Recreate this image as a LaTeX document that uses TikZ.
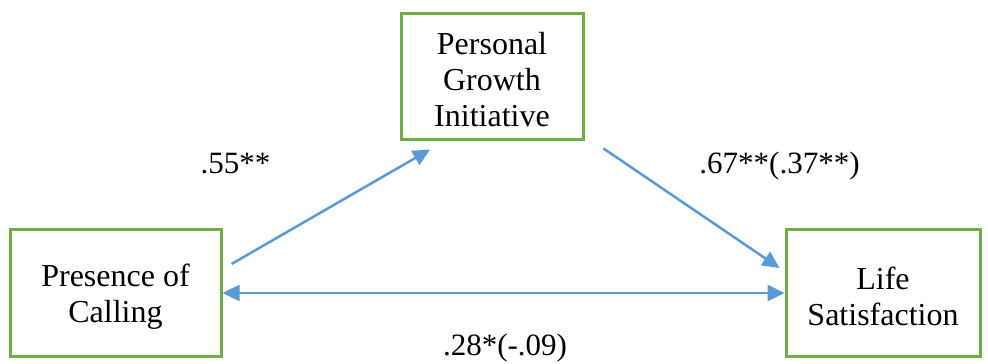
\documentclass[tikz,border=0pt]{standalone}
\usepackage{fontspec}
\setmainfont{Liberation Serif}
\usetikzlibrary{arrows.meta}
\definecolor{boxgreen}{RGB}{112,173,71}
\definecolor{pathblue}{RGB}{91,155,213}
\tikzset{
  varbox/.style={draw=boxgreen, line width=3pt, fill=white, inner sep=0pt},
  boxtext/.style={align=center, inner sep=0pt, font=\fontsize{32}{36}\selectfont},
  path arrow/.style={draw=pathblue, line width=2.5pt,
    -{Triangle[length=17pt,width=16pt]}},
  both arrow/.style={draw=pathblue, line width=2.5pt,
    {Triangle[length=17pt,width=16pt]}-{Triangle[length=17pt,width=16pt]}},
  coef/.style={font=\fontsize{31}{36}\selectfont, inner sep=0pt, anchor=base}
}
\begin{document}
\begin{tikzpicture}[x=1pt,y=-1pt]
  \useasboundingbox (0,0) rectangle (988,364);

  % variable boxes
  \node[varbox, minimum width=211pt, minimum height=127pt] (pc) at (115.5,292.5) {};
  \node[varbox, minimum width=182pt, minimum height=126pt] (pgi) at (492,76) {};
  \node[varbox, minimum width=194pt, minimum height=127pt] (ls) at (883,292.5) {};

  % variable names, set a little below the box centres
  \node[boxtext] (pctext) at ([yshift=-4pt]pc.center) {Presence of\\Calling};
  \node[boxtext] (pgitext) at ([yshift=-4pt]pgi.center) {Personal\\Growth\\Initiative};
  \node[boxtext] (lstext) at ([yshift=-4pt]ls.center) {Life\\Satisfaction};

  % paths
  \draw[path arrow] ([shift={(9,-28.5)}]pc.east) -- ([shift={(-62,9)}]pgi.south);
  \draw[path arrow] ([shift={(19,8)}]pgi.south east) -- ([shift={(-5,-24.5)}]ls.west);
  \draw[both arrow] ([yshift=-0.5]pc.east) -- ([yshift=-0.5]ls.west);

  % coefficients
  \node[coef] (c1) at (235.5,173) {.55**};
  \node[coef] (c2) at (779.5,173) {.67**(.37**)};
  \node[coef] (c3) at (505,355) {.28*(-.09)};
\end{tikzpicture}
\end{document}
